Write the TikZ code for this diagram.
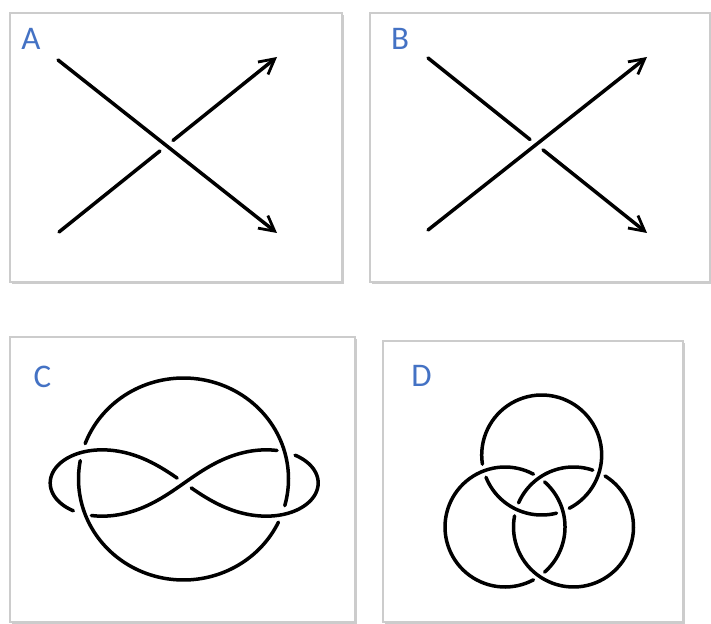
\documentclass[tikz,border=0pt]{standalone}
\usepackage{fontspec}
\setmainfont{Carlito}
\usetikzlibrary{arrows.meta,calc,shadows}
\definecolor{tagblue}{RGB}{68,114,196}

\tikzset{
  panel/.style={fill=white, draw=gray!40, line width=1pt,
    drop shadow={shadow xshift=1.2pt, shadow yshift=-1.2pt, opacity=0.4}},
  strand/.style={line width=1.75pt, black, line cap=round},
  tip/.style={-{Straight Barb[length=7.5pt, width=8pt, line width=1.4pt]}},
  tag/.style={font=\fontsize{16.5}{18}\selectfont, text=tagblue, inner sep=0pt},
}

\begin{document}
\begin{tikzpicture}[x=0.5pt, y=-0.5pt]
  \useasboundingbox (0,0) rectangle (711,624);

  % panels
  \path[panel] (10,13) rectangle (342,282);
  \path[panel] (370,13) rectangle (710,282);
  \path[panel] (10,337) rectangle (355,622);
  \path[panel] (383,341) rectangle (683,622);

  % A: positive crossing
  \node[tag] (tagA) at (31,38.5) {A};
  \coordinate (a1) at (58,60);
  \coordinate (a2) at (277,233);
  \coordinate (a3) at (59,232);
  \coordinate (a4) at (277,57);
  \draw[strand, tip] (a1) -- (a2);
  \draw[strand] (a3) -- ($(a3)!0.463!(a4)$);
  \draw[strand, tip] ($(a3)!0.523!(a4)$) -- (a4);

  % B: negative crossing
  \node[tag] (tagB) at (400,38.5) {B};
  \coordinate (b1) at (428,230);
  \coordinate (b2) at (647,57);
  \coordinate (b3) at (428,58);
  \coordinate (b4) at (647,233);
  \draw[strand, tip] (b1) -- (b2);
  \draw[strand] (b3) -- ($(b3)!0.466!(b4)$);
  \draw[strand, tip] ($(b3)!0.525!(b4)$) -- (b4);

  % C: figure eight through a circle
  \node[tag] (tagC) at (42.5,376.5) {C};
  \foreach \a/\b in {96/201, 210/330, 339/444}
    \draw[strand] plot[domain=\a:\b, samples=80]
      ({184.2+134*cos(\x)/(1+sin(\x)*sin(\x))},
       {483+93.8*sin(\x)*cos(\x)/(1+sin(\x)*sin(\x))});
  \foreach \a/\b in {25.3/190.5, 200.5/375.3}
    \draw[strand] plot[domain=\a:\b, samples=80]
      ({183.5+105*cos(\x)}, {479+101*sin(\x)});

  % D: Borromean rings
  \node[tag] (tagD) at (421.5,376) {D};
  \foreach \a/\b in {75.7/158.2, 171.2/422.7}
    \draw[strand] plot[domain=\a:\b, samples=60]
      ({541.7+60*cos(\x)}, {455+60*sin(\x)});
  \foreach \a/\b in {61.7/298.3, 311.3/408.7}
    \draw[strand] plot[domain=\a:\b, samples=60]
      ({505+60*cos(\x)}, {527+60*sin(\x)});
  \foreach \a/\b in {203.7/288.7, 301.7/550.7}
    \draw[strand] plot[domain=\a:\b, samples=60]
      ({573.5+60*cos(\x)}, {527+60*sin(\x)});
\end{tikzpicture}
\end{document}
